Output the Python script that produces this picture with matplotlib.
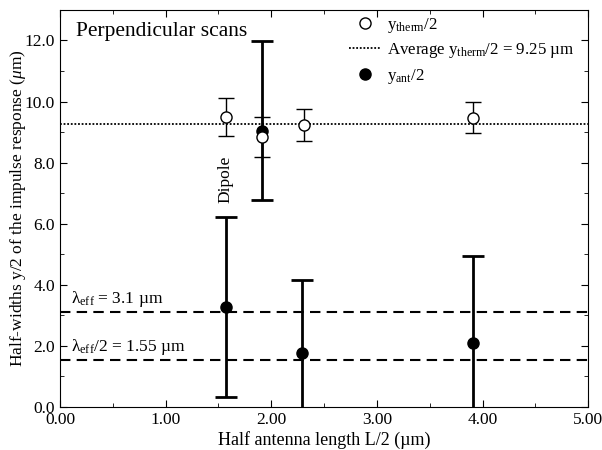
import matplotlib
matplotlib.use('Agg')
import matplotlib.pyplot as plt
from matplotlib.ticker import MultipleLocator, FormatStrFormatter
from matplotlib.lines import Line2D

# y_therm/2 (open circles)
therm_x = [1.57, 1.91, 2.31, 3.91]
therm_y = [9.50, 8.83, 9.22, 9.47]
therm_err = [0.62, 0.66, 0.52, 0.51]

# y_ant/2 (filled circles)
ant_x = [1.57, 1.91, 2.29, 3.91]
ant_y = [3.27, 9.02, 1.77, 2.09]
ant_err_low = [2.95, 2.25, 2.40, 2.85]
ant_err_high = [2.95, 2.95, 2.40, 2.85]

avg_therm = 9.25
lambda_eff = 3.1
lambda_eff_half = 1.55

plt.rcParams.update({'font.family': 'Liberation Serif', 'font.size': 12,
                     'mathtext.fontset': 'custom',
                     'mathtext.rm': 'Liberation Serif',
                     'mathtext.it': 'Liberation Serif:italic'})

fig = plt.figure(figsize=(6.02, 4.5), dpi=100)
ax = fig.add_axes([0.0997, 0.0956, 0.8773, 0.8824])

ax.axhline(avg_therm, color='black', linestyle=(0, (1, 1)), linewidth=1.3)
ax.axhline(lambda_eff, color='black', linestyle=(0, (5, 3)), linewidth=1.5)
ax.axhline(lambda_eff_half, color='black', linestyle=(0, (5, 3)), linewidth=1.5)

ax.errorbar(ant_x, ant_y, yerr=[ant_err_low, ant_err_high], fmt='o', color='black',
            markersize=8, elinewidth=2, capsize=8, capthick=2, zorder=3)
ax.errorbar(therm_x, therm_y, yerr=therm_err, fmt='o', color='black', mfc='white',
            markersize=8, elinewidth=1, capsize=6, capthick=1, zorder=4)

ax.set_xlim(0, 5)
ax.set_ylim(0, 13)
ax.xaxis.set_major_locator(MultipleLocator(1))
ax.xaxis.set_minor_locator(MultipleLocator(0.5))
ax.yaxis.set_major_locator(MultipleLocator(2))
ax.yaxis.set_minor_locator(MultipleLocator(1))
ax.xaxis.set_major_formatter(FormatStrFormatter('%.2f'))
ax.yaxis.set_major_formatter(FormatStrFormatter('%.1f'))
ax.tick_params(which='both', direction='in', top=True, right=True, labelsize=12.5)
ax.tick_params(which='major', length=5)
ax.tick_params(which='minor', length=3)

ax.set_xlabel('Half antenna length L/2 (\u00b5m)', fontsize=13, labelpad=2)
ax.set_ylabel('Half-widths y/2 of the impulse response ($\\mathit{\\mu}$m)', fontsize=12.5,
              labelpad=-2)

ax.text(0.15, 12.3, 'Perpendicular scans', fontsize=15.5, va='center')
ax.text(1.57, 7.45, 'Dipole', rotation=90, ha='center', va='center', fontsize=12.5)
ax.text(0.1, 3.2, '\u03bb$_{\\mathrm{eff}}$ = 3.1 \u00b5m', fontsize=12.5, va='bottom')
ax.text(0.1, 1.65, '\u03bb$_{\\mathrm{eff}}$/2 = 1.55 \u00b5m', fontsize=12.5, va='bottom')

handles = [
    Line2D([], [], marker='o', color='black', mfc='white', linestyle='none', markersize=8),
    Line2D([], [], color='black', linestyle=(0, (1, 1)), linewidth=1.3),
    Line2D([], [], marker='o', color='black', linestyle='none', markersize=8),
]
labels = ['y$_{\\mathrm{therm}}$/2', 'Average y$_{\\mathrm{therm}}$/2 = 9.25 \u00b5m',
          'y$_{\\mathrm{ant}}$/2']
ax.legend(handles, labels, loc='upper right', bbox_to_anchor=(0.978, 0.992), frameon=False,
          fontsize=12.2, handlelength=1.8, handletextpad=0.4, borderaxespad=0,
          borderpad=0.15, labelspacing=0.4)

fig.savefig('out.png', dpi=100)
